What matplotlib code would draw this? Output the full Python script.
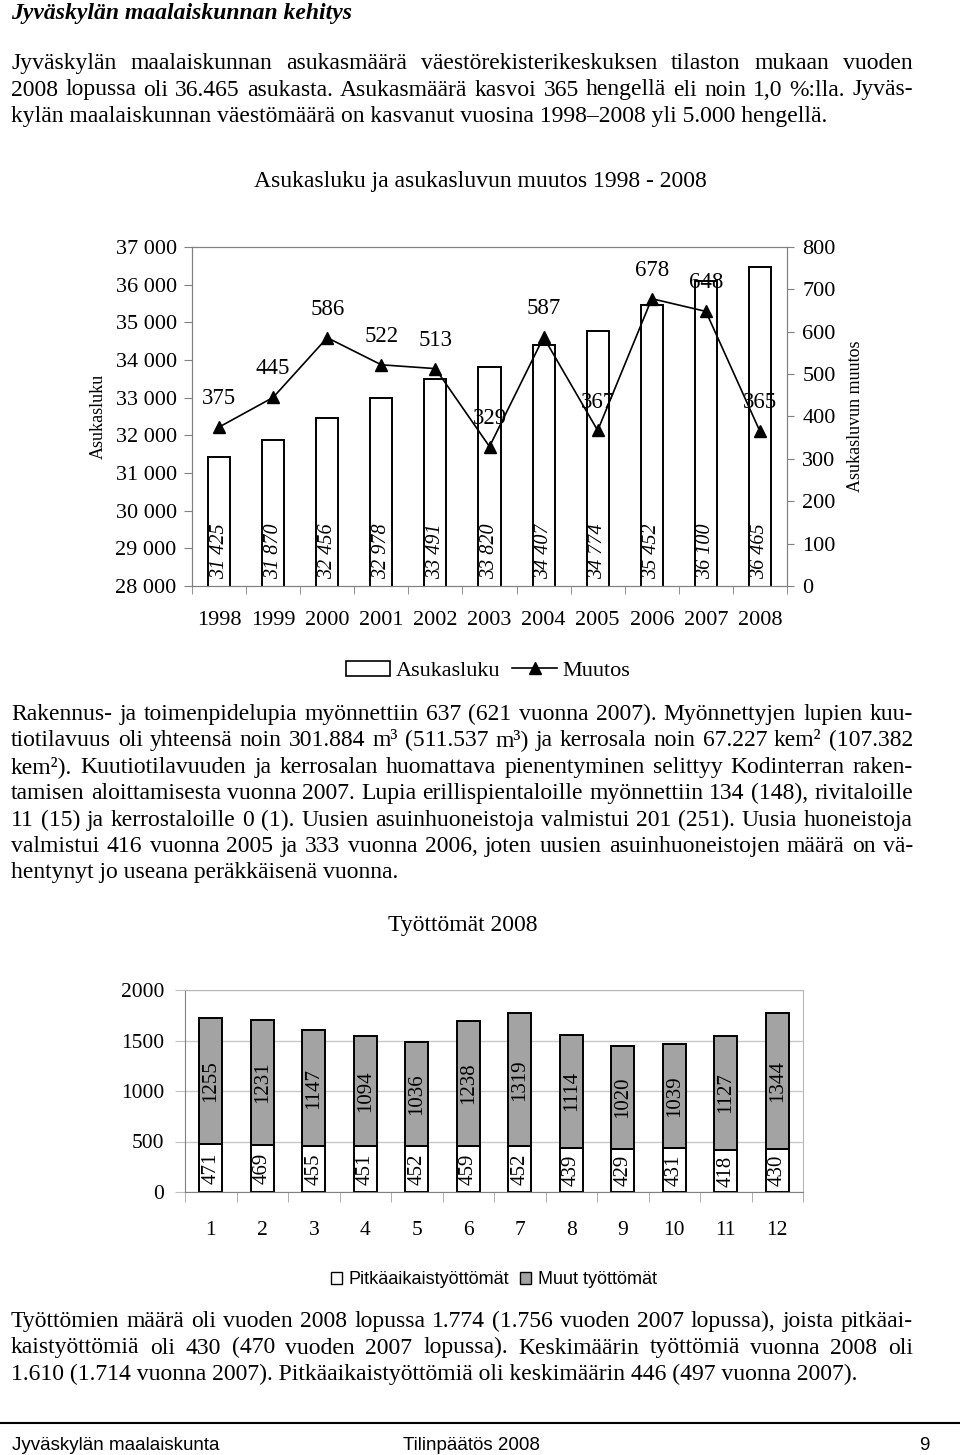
import numpy as np
import matplotlib
matplotlib.use("Agg")
from matplotlib import pyplot as plt
from matplotlib.patches import Patch
from matplotlib.lines import Line2D

W, H = 960, 1455
SERIF = 'Liberation Serif'
SANS = 'Liberation Sans'

# chart 1 data
years = [1998, 1999, 2000, 2001, 2002, 2003, 2004, 2005, 2006, 2007, 2008]
asukasluku = [31425, 31870, 32456, 32978, 33491, 33820, 34407, 34774, 35452, 36100, 36465]
muutos = [375, 445, 586, 522, 513, 329, 587, 367, 678, 648, 365]

# chart 2 data
months = [1, 2, 3, 4, 5, 6, 7, 8, 9, 10, 11, 12]
pitka = [471, 469, 455, 451, 452, 459, 452, 439, 429, 431, 418, 430]
muut = [1255, 1231, 1147, 1094, 1036, 1238, 1319, 1114, 1020, 1039, 1127, 1344]

para1 = [
    ("Jyväskylän maalaiskunnan asukasmäärä väestörekisterikeskuksen tilaston mukaan vuoden", True),
    ("2008 lopussa oli 36.465 asukasta. Asukasmäärä kasvoi 365 hengellä eli noin 1,0 %:lla. Jyväs-", True),
    ("kylän maalaiskunnan väestömäärä on kasvanut vuosina 1998–2008 yli 5.000 hengellä.", False),
]
para2 = [
    ("Rakennus- ja toimenpidelupia myönnettiin 637 (621 vuonna 2007). Myönnettyjen lupien kuu-", True),
    ("tiotilavuus oli yhteensä noin 301.884 m³ (511.537 m³) ja kerrosala noin 67.227 kem² (107.382", True),
    ("kem²). Kuutiotilavuuden ja kerrosalan huomattava pienentyminen selittyy Kodinterran raken-", True),
    ("tamisen aloittamisesta vuonna 2007. Lupia erillispientaloille myönnettiin 134 (148), rivitaloille", True),
    ("11 (15) ja kerrostaloille 0 (1). Uusien asuinhuoneistoja valmistui 201 (251). Uusia huoneistoja", True),
    ("valmistui 416 vuonna 2005 ja 333 vuonna 2006, joten uusien asuinhuoneistojen määrä on vä-", True),
    ("hentynyt jo useana peräkkäisenä vuonna.", False),
]
para3 = [
    ("Työttömien määrä oli vuoden 2008 lopussa 1.774 (1.756 vuoden 2007 lopussa), joista pitkäai-", True),
    ("kaistyöttömiä oli 430 (470 vuoden 2007 lopussa). Keskimäärin työttömiä vuonna 2008 oli", True),
    ("1.610 (1.714 vuonna 2007). Pitkäaikaistyöttömiä oli keskimäärin 446 (497 vuonna 2007).", False),
]

fig = plt.figure(figsize=(W / 100, H / 100), dpi=100)
renderer = fig.canvas.get_renderer()


def fx(x):
    return x / W


def fy(y):
    return 1 - y / H


def axes_px(left, top, right, bottom):
    return fig.add_axes([fx(left), fy(bottom), (right - left) / W, (bottom - top) / H])


# write one line of body text (y = baseline), spread to full width if justified
def put_line(y, text, justify, x0=11, x1=913, size=17):
    if not justify:
        fig.text(fx(x0), fy(y), text, fontsize=size, family=SERIF, va='baseline')
        return
    words = text.split(' ')
    arts = [fig.text(0, fy(y), w, fontsize=size, family=SERIF, va='baseline') for w in words]
    widths = [a.get_window_extent(renderer).width for a in arts]
    gap = (x1 - x0 - sum(widths)) / (len(words) - 1)
    x = x0
    for a, w in zip(arts, widths):
        a.set_x(fx(x))
        x += w + gap


def put_para(lines, y0, step):
    for i, (t, j) in enumerate(lines):
        put_line(y0 + i * step, t, j)


fig.text(fx(11), fy(19), "Jyväskylän maalaiskunnan kehitys", fontsize=17, family=SERIF,
         style='italic', weight='bold', va='baseline')
put_para(para1, 69, 26.5)
put_para(para2, 720, 26.4)
put_para(para3, 1327, 26.5)

# ---------------- chart 1 ----------------
grey = '#808080'
fig.text(fx(480), fy(182), "Asukasluku ja asukasluvun muutos 1998 - 2008", fontsize=17,
         family=SERIF, ha='center', va='center')

ax = axes_px(192, 247, 787, 586)
x = np.arange(len(years))
ax.bar(x, asukasluku, width=0.41, bottom=0, color='white', edgecolor='black', lw=1.4, zorder=2)
ax.set_ylim(28000, 37000)
ax.set_xlim(-0.5, len(years) - 0.5)
ax.set_yticks(np.arange(28000, 37001, 1000))
ax.set_yticklabels([f"{v:,}".replace(',', ' ') for v in range(28000, 37001, 1000)],
                   family=SERIF, fontsize=16)
ax.set_xticks(x)
ax.set_xticklabels([str(y) for y in years], family=SERIF, fontsize=16)
ax.set_xticks(np.arange(-0.5, len(years)), minor=True)
ax.tick_params(axis='x', which='major', length=0, pad=18)
ax.tick_params(axis='x', which='minor', length=6, color=grey, direction='out')
ax.tick_params(axis='y', length=6, color=grey, pad=5)
for s in ax.spines.values():
    s.set_color(grey)
ax.set_ylabel("Asukasluku", family=SERIF, fontsize=13, labelpad=6)
for xi, v in zip(x, asukasluku):
    ax.annotate(f"{v:,}".replace(',', ' '), (xi, 28000), xytext=(0, 5), textcoords='offset points',
                rotation=90, ha='center', va='bottom', family=SERIF, style='italic', fontsize=14.5)

ax2 = ax.twinx()
ax2.plot(x, muutos, color='black', lw=1.2, marker='^', markersize=8.5, zorder=3)
ax2.set_ylim(0, 800)
ax2.set_yticks(np.arange(0, 801, 100))
ax2.set_yticklabels([str(v) for v in range(0, 801, 100)], family=SERIF, fontsize=16)
ax2.tick_params(axis='y', length=5, color=grey, pad=6)
for s in ax2.spines.values():
    s.set_color(grey)
ax2.set_ylabel("Asukasluvun muutos", family=SERIF, fontsize=13, labelpad=8)
for xi, v in zip(x, muutos):
    ax2.annotate(str(v), (xi, v), xytext=(0, 20.5), textcoords='offset points',
                 ha='center', va='center', family=SERIF, fontsize=16.5)

h1 = [Patch(facecolor='white', edgecolor='black', lw=1.2),
      Line2D([], [], color='black', lw=1.2, marker='^', markersize=8)]
ax2.legend(h1, ["Asukasluku", "Muutos"], loc='center', bbox_to_anchor=(fx(488), fy(671)),
           bbox_transform=fig.transFigure, ncol=2, frameon=False,
           prop={'family': SERIF, 'size': 16}, handlelength=2.0, handletextpad=0.25,
           columnspacing=0.55, handleheight=0.7)

# ---------------- chart 2 ----------------
fig.text(fx(463), fy(925), "Työttömät 2008", fontsize=17, family=SERIF, ha='center', va='center')
bx = axes_px(185, 990, 803, 1192)
m = np.arange(len(months))
gray2 = '#a3a3a3'
bx.bar(m, pitka, width=0.45, color='white', edgecolor='black', lw=1.4, zorder=2)
bx.bar(m, muut, width=0.45, bottom=pitka, color=gray2, edgecolor='black', lw=1.4, zorder=2)
bx.set_ylim(0, 2000)
bx.set_xlim(-0.5, len(months) - 0.5)
bx.set_yticks(np.arange(0, 2001, 500))
bx.set_yticklabels([str(v) for v in range(0, 2001, 500)], family=SERIF, fontsize=15.5)
bx.set_xticks(m)
bx.set_xticklabels([str(v) for v in months], family=SERIF, fontsize=15.5)
bx.set_xticks(np.arange(-0.5, len(months)), minor=True)
bx.tick_params(axis='x', which='major', length=0, pad=21)
bx.tick_params(axis='x', which='minor', length=7, color='#a0a0a0')
bx.tick_params(axis='y', length=7, color='#c0c0c0', pad=8)
bx.yaxis.grid(True, color='#c8c8c8', lw=1)
bx.set_axisbelow(True)
bx.spines['left'].set_color(grey)
bx.spines['bottom'].set_color(grey)
bx.spines['top'].set_color('#b8b8b8')
bx.spines['right'].set_color('#b8b8b8')
for mi, p, q in zip(m, pitka, muut):
    bx.text(mi, p / 2, str(p), rotation=90, ha='center', va='center', family=SERIF, fontsize=15, zorder=3)
    bx.text(mi, p + q / 2, str(q), rotation=90, ha='center', va='center', family=SERIF, fontsize=15, zorder=3)

h2 = [Patch(facecolor='white', edgecolor='black', lw=1), Patch(facecolor=gray2, edgecolor='black', lw=1)]
bx.legend(h2, ["Pitkäaikaistyöttömät", "Muut työttömät"], loc='center',
          bbox_to_anchor=(fx(494), fy(1280)), bbox_transform=fig.transFigure, ncol=2,
          frameon=False, prop={'family': SANS, 'size': 13}, handlelength=0.6,
          handleheight=0.6, handletextpad=0.4, columnspacing=0.6)

# ---------------- footer ----------------
fig.add_artist(Line2D([0, 1], [fy(1423), fy(1423)], color='black', lw=1.5))
fig.text(fx(12), fy(1445), "Jyväskylän maalaiskunta", fontsize=13.5, family=SANS, va='center')
fig.text(fx(403), fy(1445), "Tilinpäätös 2008", fontsize=13.5, family=SANS, va='center')
fig.text(fx(930), fy(1445), "9", fontsize=13.5, family=SANS, va='center', ha='right')

fig.savefig("out.png", dpi=100)
